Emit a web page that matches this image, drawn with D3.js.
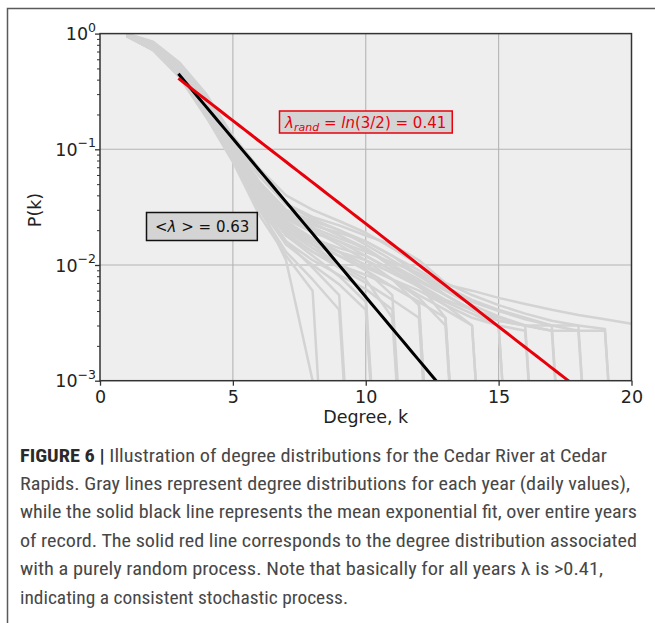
<!DOCTYPE html>
<html>
<head>
<meta charset="utf-8">
<script src="https://cdn.jsdelivr.net/npm/d3@7"></script>
<style>
  html, body { margin: 0; padding: 0; background: #ffffff; }
  svg { display: block; }
</style>
</head>
<body>
<script>
// Yearly degree distributions P(k), k = 1, 2, 3, ... (0 = no node of that degree)
const yearCurves = [
  [1.00,0.85,0.56,0.30,0.13,0.068,0.040,0.030,0.024,0.019,0.014,0.0100,0.0068,0.0060,0.0052,0.0046,0.0041,0.0037,0.0034,0.0031,0.0029],
  [0.99,0.83,0.54,0.28,0.12,0.058,0.034,0.026,0.022,0.018,0.015,0.0110,0.0070,0.0055,0.0045,0.0038,0.0033,0.0030,0.0028,0],
  [0.98,0.80,0.50,0.26,0.11,0.050,0.028,0.022,0.019,0.016,0.012,0.0090,0.0065,0.0050,0.0041,0.0035,0.0030,0.0027,0.0027,0],
  [0.99,0.82,0.52,0.27,0.115,0.052,0.030,0.024,0.020,0.015,0.011,0.0080,0.0060,0.0045,0.0036,0.0030,0.0027,0.0027,0],
  [0.97,0.78,0.48,0.24,0.10,0.045,0.025,0.019,0.016,0.013,0.0105,0.0085,0.0062,0.0048,0.0040,0.0034,0.0030,0.0030,0],
  [0.98,0.80,0.50,0.25,0.105,0.048,0.027,0.021,0.017,0.014,0.0095,0.0072,0.0055,0.0041,0.0033,0.0030,0.0027,0],
  [0.96,0.76,0.46,0.23,0.095,0.042,0.022,0.017,0.014,0.012,0.0090,0.0068,0.0050,0.0041,0.0035,0.0030,0.0030,0],
  [0.99,0.81,0.51,0.26,0.11,0.050,0.029,0.023,0.018,0.0135,0.0100,0.0075,0.0055,0.0041,0.0033,0.0030,0],
  [0.97,0.77,0.47,0.23,0.095,0.040,0.021,0.016,0.013,0.011,0.0085,0.0065,0.0048,0.0038,0.0030,0.0027,0],
  [1.00,0.84,0.55,0.29,0.125,0.060,0.033,0.025,0.020,0.016,0.012,0.0082,0.0055,0.0041,0.0030,0],
  [0.96,0.75,0.45,0.22,0.09,0.038,0.020,0.015,0.012,0.0095,0.0075,0.0060,0.0045,0.0035,0.0030,0],
  [0.98,0.79,0.49,0.25,0.10,0.046,0.026,0.020,0.016,0.012,0.0090,0.0065,0.0045,0.0030,0],
  [0.97,0.77,0.46,0.23,0.092,0.040,0.021,0.016,0.013,0.0100,0.0075,0.0055,0.0041,0.0030,0],
  [0.99,0.82,0.52,0.27,0.115,0.052,0.030,0.023,0.018,0.014,0.0100,0.0068,0.0035,0],
  [0.97,0.78,0.47,0.24,0.098,0.043,0.023,0.017,0.013,0.0100,0.0075,0.0052,0.0030,0],
  [0.96,0.74,0.44,0.21,0.088,0.036,0.018,0.013,0.010,0.0082,0.0065,0.0048,0.0035,0],
  [0.98,0.80,0.50,0.25,0.105,0.048,0.027,0.020,0.015,0.011,0.0075,0.0045,0],
  [0.96,0.75,0.45,0.22,0.090,0.038,0.019,0.013,0.0095,0.0070,0.0050,0.0035,0],
  [0.97,0.77,0.47,0.235,0.097,0.042,0.022,0.016,0.012,0.0090,0.0065,0.0048,0],
  [0.98,0.79,0.49,0.245,0.10,0.044,0.024,0.017,0.013,0.0090,0.0055,0],
  [0.96,0.74,0.44,0.21,0.085,0.034,0.016,0.011,0.0082,0.0062,0.0041,0],
  [0.97,0.76,0.46,0.225,0.092,0.040,0.020,0.014,0.010,0.0075,0.0035,0],
  [0.98,0.78,0.48,0.24,0.098,0.042,0.022,0.015,0.0100,0.0055,0],
  [0.95,0.73,0.43,0.20,0.082,0.032,0.015,0.010,0.0068,0.0041,0],
  [0.97,0.76,0.46,0.22,0.090,0.038,0.018,0.012,0.0080,0.0048,0],
  [0.96,0.75,0.45,0.215,0.088,0.036,0.016,0.0095,0.0055,0],
  [0.95,0.72,0.42,0.20,0.080,0.030,0.013,0.0075,0.0041,0],
  [0.95,0.72,0.42,0.19,0.078,0.027,0.012,0.0060,0],
  [0.95,0.72,0.42,0.19,0.095,0.033,0.011,0.0010,0]
];

// Exponential fits P(k) = P0 * exp(-lambda * (k - k0))
const fitNames   = ["mean", "random"];
const fitLambdas = [0.63, 0.41];
const fitK0      = [2.95, 2.95];
const fitP0      = [0.45, 0.41];
const fitColors  = ["#000000", "#e8000b"];

// Axis ticks
const xTicks = [0, 5, 10, 15, 20];
const yExponents = [-3, -2, -1, 0];

const captionLines = [
  ["FIGURE 6 |", " Illustration of degree distributions for the Cedar River at Cedar"],
  ["", "Rapids. Gray lines represent degree distributions for each year (daily values),"],
  ["", "while the solid black line represents the mean exponential fit, over entire years"],
  ["", "of record. The solid red line corresponds to the degree distribution associated"],
  ["", "with a purely random process. Note that basically for all years \u03bb is >0.41,"],
  ["", "indicating a consistent stochastic process."]
];
const captionWidths = [587, 610, 617, 617, 583, 328];

const W = 655, H = 623;
const plotL = 100, plotR = 631.5, plotT = 33.6, plotB = 380.7;
const FLOOR = 1e-6;   // zero counts are clipped to a tiny value on the log axis
const AXIS_FS = 17.5;

const svg = d3.select("body").append("svg").attr("width", W).attr("height", H)
  .style("font-family", "'DejaVu Sans', sans-serif");

// outer figure frame (top and left edges)
svg.append("path").attr("d", `M7.5,${H + 2} V8.5 H${W + 2}`)
  .attr("fill", "none").attr("stroke", "#5a5a5a").attr("stroke-width", 1.5);

const x = d3.scaleLinear().domain([0, 20]).range([plotL, plotR]);
const y = d3.scaleLog().domain([1e-3, 1]).range([plotB, plotT]);

svg.append("rect").attr("x", plotL).attr("y", plotT)
  .attr("width", plotR - plotL).attr("height", plotB - plotT).attr("fill", "#eeeeee");

svg.append("defs").append("clipPath").attr("id", "plotClip")
  .append("rect").attr("x", plotL).attr("y", plotT)
  .attr("width", plotR - plotL).attr("height", plotB - plotT);

// grid
const grid = svg.append("g").attr("stroke", "#b4b4b4").attr("stroke-width", 1.1);
xTicks.slice(1, -1).forEach(t => grid.append("line")
  .attr("x1", x(t)).attr("x2", x(t)).attr("y1", plotT).attr("y2", plotB));
yExponents.slice(1, -1).forEach(e => grid.append("line")
  .attr("x1", plotL).attr("x2", plotR).attr("y1", y(Math.pow(10, e))).attr("y2", y(Math.pow(10, e))));

const plot = svg.append("g").attr("clip-path", "url(#plotClip)");

const line = d3.line()
  .x(d => x(d[0]))
  .y(d => y(Math.max(d[1], FLOOR)));

yearCurves.forEach(c => {
  plot.append("path")
    .datum(c.map((p, i) => [i + 1, p]))
    .attr("d", line)
    .attr("fill", "none")
    .attr("stroke", "#d3d3d3")
    .attr("stroke-width", 2.5)
    .attr("stroke-linejoin", "round");
});

fitNames.forEach((name, i) => {
  const pts = d3.range(fitK0[i], 20.01, 0.25)
    .map(k => [k, fitP0[i] * Math.exp(-fitLambdas[i] * (k - fitK0[i]))]);
  plot.append("path").datum(pts).attr("d", line)
    .attr("fill", "none").attr("stroke", fitColors[i]).attr("stroke-width", 3);
});

// spines
svg.append("rect").attr("x", plotL).attr("y", plotT)
  .attr("width", plotR - plotL).attr("height", plotB - plotT)
  .attr("fill", "none").attr("stroke", "#333").attr("stroke-width", 1.5);

// x axis
const xAxis = svg.append("g").attr("transform", `translate(0,${plotB})`)
  .call(d3.axisBottom(x).tickValues(xTicks).tickSize(5).tickPadding(5).tickFormat(d3.format("d")));
xAxis.select(".domain").remove();
xAxis.selectAll(".tick line").attr("stroke", "#333").attr("stroke-width", 1.3);
xAxis.selectAll(".tick text").attr("font-family", "'DejaVu Sans', sans-serif")
  .attr("font-size", AXIS_FS).attr("fill", "#222");

// y axis: minor ticks
const minors = [];
yExponents.slice(0, -1).forEach(e => { for (let m = 2; m <= 9; m++) minors.push(m * Math.pow(10, e)); });
const yMinor = svg.append("g").attr("transform", `translate(${plotL},0)`)
  .call(d3.axisLeft(y).tickValues(minors).tickSize(3).tickFormat(""));
yMinor.select(".domain").remove();
yMinor.selectAll(".tick line").attr("stroke", "#333").attr("stroke-width", 1);

// y axis: major ticks with power-of-ten labels
const yMajor = svg.append("g").attr("transform", `translate(${plotL},0)`)
  .call(d3.axisLeft(y).tickValues(yExponents.map(e => Math.pow(10, e))).tickSize(5).tickFormat(""));
yMajor.select(".domain").remove();
yMajor.selectAll(".tick line").attr("stroke", "#333").attr("stroke-width", 1.3);
yExponents.forEach(e => {
  const t = svg.append("text").attr("x", 96).attr("y", y(Math.pow(10, e)) + 6.5)
    .attr("text-anchor", "end").attr("font-size", AXIS_FS).attr("fill", "#222");
  t.append("tspan").text("10");
  t.append("tspan").attr("dy", -8.5).attr("font-size", 12.5).text(e === 0 ? "0" : "\u2212" + (-e));
});

// axis titles
svg.append("text").attr("x", (plotL + plotR) / 2).attr("y", 423)
  .attr("text-anchor", "middle").attr("font-size", AXIS_FS).attr("fill", "#222").text("Degree, k");
svg.append("text").attr("transform", `translate(41,210) rotate(-90)`)
  .attr("text-anchor", "middle").attr("font-size", AXIS_FS).attr("fill", "#222").text("P(k)");

// annotation: random-process exponent
const redG = svg.append("g");
const redT = redG.append("text").attr("x", 285).attr("y", 127.5)
  .attr("font-size", 15).attr("fill", "#e8000b");
redT.append("tspan").attr("font-style", "italic").text("\u03bb");
redT.append("tspan").attr("font-style", "italic").attr("font-size", 11).attr("dy", 3.5).text("rand");
redT.append("tspan").attr("dy", -3.5).text(" = ");
redT.append("tspan").attr("font-style", "italic").text("ln");
redT.append("tspan").text("(3/2) = " + fitLambdas[1].toFixed(2));
const rb = redT.node().getBBox();
redG.insert("rect", "text").attr("x", 279.5).attr("y", 111)
  .attr("width", rb.x + rb.width + 6 - 279.5).attr("height", 22)
  .attr("fill", "#d4d4d4").attr("stroke", "#e8000b").attr("stroke-width", 1.5);

// annotation: mean fitted exponent
const blkG = svg.append("g");
const blkT = blkG.append("text").attr("x", 155).attr("y", 231.5)
  .attr("font-size", 15).attr("fill", "#111");
blkT.append("tspan").text("<");
blkT.append("tspan").attr("font-style", "italic").text("\u03bb");
blkT.append("tspan").text(" > = " + fitLambdas[0].toFixed(2));
const bb = blkT.node().getBBox();
blkG.insert("rect", "text").attr("x", 146.5).attr("y", 212.5)
  .attr("width", bb.x + bb.width + 8 - 146.5).attr("height", 28)
  .attr("fill", "#d4d4d4").attr("stroke", "#111").attr("stroke-width", 1.5);

// caption
const capTop = 461.5, capStep = 28.4;
captionLines.forEach((ln, i) => {
  const t = svg.append("text").attr("x", 20).attr("y", capTop + i * capStep)
    .attr("font-family", "'Liberation Sans Narrow', 'Roboto Condensed', 'Liberation Sans', sans-serif")
    .attr("font-size", 18.5).attr("fill", "#474747")
    .attr("textLength", captionWidths[i]).attr("lengthAdjust", "spacingAndGlyphs");
  if (ln[0]) t.append("tspan").attr("font-weight", "bold").attr("fill", "#2a2a2a").text(ln[0]);
  t.append("tspan").text(ln[1]);
});
</script>
</body>
</html>
